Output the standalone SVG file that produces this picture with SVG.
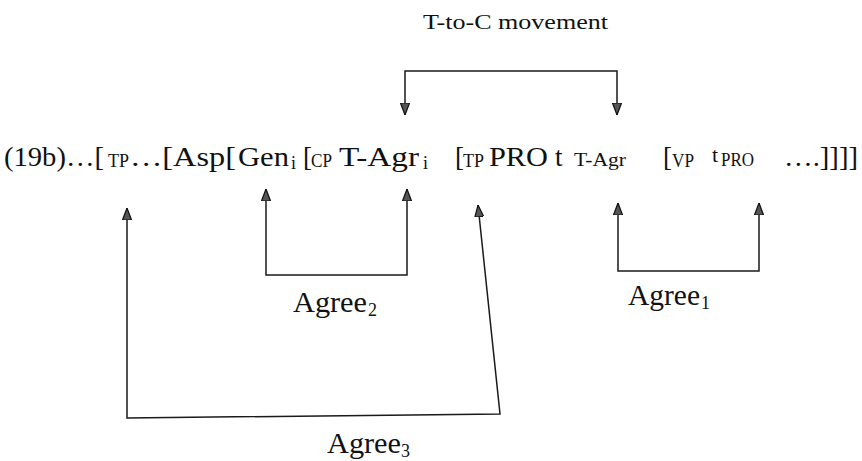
<svg xmlns="http://www.w3.org/2000/svg" width="862" height="461" viewBox="0 0 862 461">
<style>
text{font-family:"Liberation Serif","Times New Roman",serif;fill:#111}
.m{font-size:27px}
.s{font-size:18px}
.l{font-size:29px}
.ls{font-size:18px}
.c{fill:none;stroke:#1a1a1a;stroke-width:1.5}
</style>
<defs>
<marker id="ah" viewBox="0 0 12 10" refX="12" refY="5" markerWidth="12" markerHeight="10" markerUnits="userSpaceOnUse" orient="auto-start-reverse">
<path d="M0,0.5 L12,5 L0,9.5 z" fill="#555" stroke="#111" stroke-width="1.2"/>
</marker>
</defs>
<rect width="862" height="461" fill="#fff"/>
<g id="sentence">
<text class="m" x="4" y="166" textLength="100" lengthAdjust="spacingAndGlyphs">(19b)…[</text>
<text class="s" x="108" y="167" textLength="21" lengthAdjust="spacingAndGlyphs">TP</text>
<text class="m" x="130" y="166" textLength="106" lengthAdjust="spacingAndGlyphs">…[Asp[</text>
<text class="m" x="238" y="166" textLength="51" lengthAdjust="spacingAndGlyphs">Gen</text>
<text class="s" x="291" y="169">i</text>
<text class="m" x="303" y="166">[</text>
<text class="s" x="311" y="167" textLength="21" lengthAdjust="spacingAndGlyphs">CP</text>
<text class="m" x="339" y="166" textLength="80" lengthAdjust="spacingAndGlyphs">T-Agr</text>
<text class="s" x="423" y="169">i</text>
<text class="m" x="455" y="166">[</text>
<text class="s" x="463" y="167" textLength="21" lengthAdjust="spacingAndGlyphs">TP</text>
<text class="m" x="489" y="166" textLength="59" lengthAdjust="spacingAndGlyphs">PRO</text>
<text class="m" x="555" y="166">t</text>
<text class="s" x="574" y="166" textLength="52" lengthAdjust="spacingAndGlyphs">T-Agr</text>
<text class="m" x="663" y="166">[</text>
<text class="s" x="672" y="167" textLength="22" lengthAdjust="spacingAndGlyphs">VP</text>
<text class="m" x="712" y="162" style="font-size:22px">t</text>
<text class="s" x="721" y="166" textLength="33" lengthAdjust="spacingAndGlyphs">PRO</text>
<text class="m" x="784" y="166" textLength="74" lengthAdjust="spacingAndGlyphs">….]]]]</text>
</g>
<g id="connectors">
<path class="c" d="M405,115 V71 H617 V115" marker-start="url(#ah)" marker-end="url(#ah)"/>
<path class="c" d="M266,189 V275 H407 V189" marker-start="url(#ah)" marker-end="url(#ah)"/>
<path class="c" d="M618,203 V271 H759 V203" marker-start="url(#ah)" marker-end="url(#ah)"/>
<path class="c" d="M127,208 V418 L500,414 L478,205" marker-start="url(#ah)" marker-end="url(#ah)"/>
</g>
<g id="label-movement">
<text x="423" y="29" style="font-size:20px" textLength="185" lengthAdjust="spacingAndGlyphs">T-to-C movement</text>
</g>
<g id="label-agree2">
<text class="l" x="293" y="312" textLength="74" lengthAdjust="spacingAndGlyphs">Agree</text>
<text class="ls" x="368" y="316">2</text>
</g>
<g id="label-agree1">
<text class="l" x="628" y="305" textLength="72" lengthAdjust="spacingAndGlyphs">Agree</text>
<text class="ls" x="701" y="309">1</text>
</g>
<g id="label-agree3">
<text class="l" x="327" y="453" textLength="74" lengthAdjust="spacingAndGlyphs">Agree</text>
<text class="ls" x="401" y="457">3</text>
</g>
</svg>
